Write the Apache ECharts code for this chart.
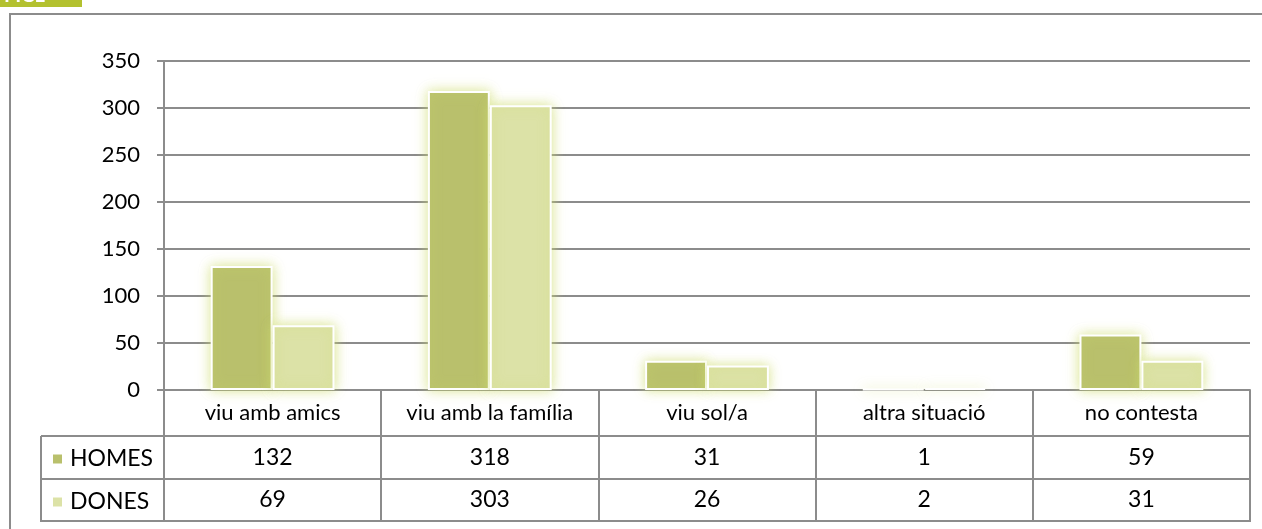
<!DOCTYPE html>
<html>
<head>
<meta charset="utf-8">
<script src="https://cdn.jsdelivr.net/npm/echarts@6/dist/echarts.min.js"></script>
<style>
  html, body { margin: 0; padding: 0; background: #fff; }
  #chart { width: 1262px; height: 529px; }
</style>
</head>
<body>
<div id="chart"></div>
<script>
// dades
const categories = ['viu amb amics', 'viu amb la família', 'viu sol/a', 'altra situació', 'no contesta'];
const seriesNames = ['HOMES', 'DONES'];
const homes = [132, 318, 31, 1, 59];
const dones = [69, 303, 26, 2, 31];
const seriesColors = ['#b9c06c', '#dce2a7'];

const FONT = 'Lato, "DejaVu Sans", sans-serif';
const LINE = '#8c8c8c';

const chart = echarts.init(document.getElementById('chart'));

// files de la taula sota l'eix (distància des de la línia 0)
const rowLines = [46, 89, 131];
const tableLeft = 41;

const barStyle = (color) => ({
  color: color,
  borderColor: '#fff',
  borderWidth: 2,
  shadowBlur: 12,
  shadowColor: 'rgba(205, 220, 110, 0.75)'
});

const option = {
  animation: false,
  textStyle: { fontFamily: FONT },
  grid: { left: 164, right: 12, top: 61, bottom: 139 },
  legend: {
    data: seriesNames,
    orient: 'vertical',
    left: 48,
    top: 441,
    icon: 'rect',
    itemWidth: 9,
    itemHeight: 9,
    itemGap: 17,
    itemStyle: { borderWidth: 0, shadowBlur: 0 },
    textStyle: { fontFamily: FONT, fontSize: 23, color: '#000', lineHeight: 26, padding: [0, 0, 0, 3] }
  },
  xAxis: {
    type: 'category',
    data: categories,
    axisLine: { lineStyle: { color: LINE, width: 2 } },
    axisTick: { show: true, interval: 0, length: rowLines[2], lineStyle: { color: LINE, width: 2 } },
    axisLabel: { interval: 0, color: '#000', fontSize: 22, fontFamily: FONT, margin: 12 }
  },
  yAxis: {
    type: 'value',
    min: 0,
    max: 350,
    interval: 50,
    axisLine: { show: true, lineStyle: { color: LINE, width: 2 } },
    axisTick: { show: true, length: 7, lineStyle: { color: LINE, width: 2 } },
    axisLabel: { color: '#000', fontSize: 22, fontFamily: FONT, margin: 24 },
    splitLine: { lineStyle: { color: LINE, width: 2 } }
  },
  series: [
    { name: seriesNames[0], type: 'bar', data: homes, barWidth: '28.5%', barGap: '0%', itemStyle: barStyle(seriesColors[0]) },
    { name: seriesNames[1], type: 'bar', data: dones, barWidth: '28.5%', barGap: '0%', itemStyle: barStyle(seriesColors[1]) }
  ]
};

chart.setOption(option);

// taula de dades i marc
const y0 = chart.convertToPixel({ yAxisIndex: 0 }, 0);
const xLeft = chart.convertToPixel({ xAxisIndex: 0 }, 0) - (chart.convertToPixel({ xAxisIndex: 0 }, 1) - chart.convertToPixel({ xAxisIndex: 0 }, 0)) / 2;
const xRight = 1262 - 12;

const graphics = [];

// etiqueta verda a dalt
graphics.push({ type: 'rect', shape: { x: 0, y: 0, width: 82, height: 7 }, style: { fill: '#b3c12f' }, silent: true });
graphics.push({ type: 'text', x: 4, y: -14, style: { text: 'FICL', fill: '#fff', font: 'bold 20px ' + FONT }, silent: true });

// marc exterior
graphics.push({ type: 'polyline', shape: { points: [[10, 529], [10, 14], [1262, 14]] }, style: { stroke: LINE, lineWidth: 2, fill: null }, silent: true });

// línies horitzontals de la taula
rowLines.forEach(d => {
  graphics.push({ type: 'line', shape: { x1: tableLeft, y1: y0 + d, x2: xRight + 1, y2: y0 + d }, style: { stroke: LINE, lineWidth: 2 }, silent: true });
});
graphics.push({ type: 'line', shape: { x1: tableLeft, y1: y0 + rowLines[0], x2: tableLeft, y2: y0 + rowLines[2] + 1 }, style: { stroke: LINE, lineWidth: 2 }, silent: true });
graphics.push({ type: 'line', shape: { x1: xLeft, y1: y0, x2: xLeft, y2: y0 + rowLines[2] + 1 }, style: { stroke: LINE, lineWidth: 2 }, silent: true });

// valors
[homes, dones].forEach((vals, r) => {
  const cy = y0 + (rowLines[r] + rowLines[r + 1]) / 2;
  vals.forEach((v, i) => {
    const cx = chart.convertToPixel({ xAxisIndex: 0 }, i);
    graphics.push({
      type: 'text', x: cx, y: cy,
      style: { text: String(v), fill: '#000', font: '23px ' + FONT, align: 'center', verticalAlign: 'middle' },
      silent: true
    });
  });
});

chart.setOption({ graphic: graphics });
</script>
</body>
</html>
